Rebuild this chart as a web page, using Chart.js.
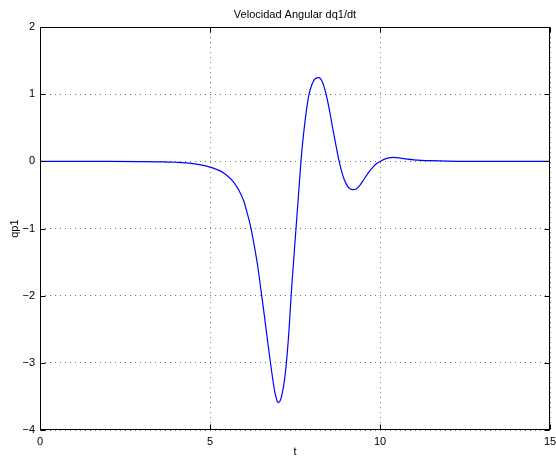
<!DOCTYPE html>
<html>
<head>
<meta charset="utf-8">
<script src="https://cdn.jsdelivr.net/npm/chart.js@4.4.1/dist/chart.umd.min.js"></script>
<style>
  html, body { margin: 0; padding: 0; background: #fff; }
  #wrap { width: 556px; height: 459px; position: relative; }
</style>
</head>
<body>
<div id="wrap"><canvas id="chart"></canvas></div>
<script>
// Time samples (s) and angular velocity qp1
const tValues = [
  0, 1, 2, 3, 3.5, 4, 4.3, 4.6, 4.9, 5.1, 5.3, 5.5, 5.7, 5.85, 6.0, 6.1, 6.2, 6.3, 6.4, 6.5,
  6.6, 6.7, 6.8, 6.9, 6.95, 7.0, 7.05, 7.1, 7.2, 7.3, 7.4, 7.5, 7.6, 7.7, 7.8, 7.9, 8.0, 8.1, 8.2, 8.3,
  8.4, 8.5, 8.6, 8.7, 8.8, 8.9, 9.0, 9.1, 9.2, 9.3, 9.4, 9.5, 9.6, 9.7, 9.8, 9.9, 10.0,
  10.2, 10.4, 10.6, 10.8, 11.0, 11.5, 12, 13, 14, 15
];
const qp1Values = [
  0, 0, 0, -0.003, -0.006, -0.012, -0.02, -0.04, -0.07, -0.1, -0.14, -0.21, -0.31, -0.43, -0.6, -0.78, -0.98, -1.25, -1.55, -1.92,
  -2.3, -2.7, -3.08, -3.42, -3.53, -3.59, -3.575, -3.51, -3.22, -2.68, -1.9, -1.2, -0.52, 0.15, 0.62, 0.97, 1.15, 1.235, 1.25, 1.19,
  1.03, 0.8, 0.52, 0.25, 0.0, -0.2, -0.33, -0.4, -0.42, -0.41, -0.36, -0.29, -0.21, -0.14, -0.08, -0.03, 0.0,
  0.045, 0.06, 0.05, 0.035, 0.025, 0.012, 0.005, 0.001, 0, 0
];
const xTicks = [0, 5, 10, 15];
const yTicks = [-4, -3, -2, -1, 0, 1, 2];

const FONT = 'Liberation Sans, Arial, Helvetica, sans-serif';
const minus = v => String(v).replace('-', '\u2212');

// MATLAB-like box with inward tick marks on all four sides
const boxPlugin = {
  id: 'boxPlugin',
  afterDraw(chart) {
    const { ctx, chartArea: a, scales } = chart;
    const L = Math.round(a.left) + 0.5, R = Math.round(a.right) - 0.5;
    const T = Math.round(a.top) + 0.5, B = Math.round(a.bottom) - 0.5;
    const len = 5;
    ctx.save();
    ctx.strokeStyle = '#000';
    ctx.lineWidth = 1;
    ctx.strokeRect(L, T, R - L, B - T);
    ctx.beginPath();
    xTicks.forEach(v => {
      const x = Math.round(scales.x.getPixelForValue(v)) + 0.5;
      ctx.moveTo(x, B); ctx.lineTo(x, B - len);
      ctx.moveTo(x, T); ctx.lineTo(x, T + len);
    });
    yTicks.forEach(v => {
      const y = Math.round(scales.y.getPixelForValue(v)) + 0.5;
      ctx.moveTo(L, y); ctx.lineTo(L + len, y);
      ctx.moveTo(R, y); ctx.lineTo(R - len, y);
    });
    ctx.stroke();
    ctx.restore();
  }
};

const points = tValues.map((t, i) => ({ x: t, y: qp1Values[i] }));

new Chart(document.getElementById('chart'), {
  type: 'scatter',
  data: {
    datasets: [{
      data: points,
      showLine: true,
      borderColor: '#0000ff',
      borderWidth: 1.2,
      pointRadius: 0,
      cubicInterpolationMode: 'monotone',
      fill: false
    }]
  },
  options: {
    responsive: true,
    maintainAspectRatio: false,
    animation: false,
    layout: { padding: { left: 0, right: 0, top: 0, bottom: 0 } },
    plugins: {
      legend: { display: false },
      tooltip: { enabled: false },
      title: {
        display: true,
        text: 'Velocidad Angular dq1/dt',
        fullSize: false,
        color: '#000',
        font: { family: FONT, size: 11, weight: 'normal' },
        padding: { top: 8, bottom: 6 }
      }
    },
    scales: {
      x: {
        type: 'linear',
        min: 0,
        max: 15,
        afterBuildTicks: s => { s.ticks = xTicks.map(v => ({ value: v })); },
        afterFit: s => { s.height = 29; s.paddingRight = 6; },
        ticks: {
          color: '#000',
          padding: 5,
          maxRotation: 0,
          font: { family: FONT, size: 11 },
          callback: v => minus(v)
        },
        grid: { color: 'rgba(0,0,0,0.55)', lineWidth: 1, drawTicks: false },
        border: { display: false, dash: [1, 4] },
        title: {
          display: true,
          text: 't',
          color: '#000',
          font: { family: FONT, size: 11 },
          padding: { top: 0, bottom: 0 }
        }
      },
      y: {
        type: 'linear',
        min: -4,
        max: 2,
        afterBuildTicks: s => { s.ticks = yTicks.map(v => ({ value: v })); },
        afterFit: s => { s.width = 40; },
        ticks: {
          color: '#000',
          padding: 5,
          font: { family: FONT, size: 11 },
          callback: v => minus(v)
        },
        grid: { color: 'rgba(0,0,0,0.55)', lineWidth: 1, drawTicks: false },
        border: { display: false, dash: [1, 4] },
        title: {
          display: true,
          text: 'qp1',
          color: '#000',
          font: { family: FONT, size: 11 },
          padding: { top: 8, bottom: 0 }
        }
      }
    }
  },
  plugins: [boxPlugin]
});
</script>
</body>
</html>
